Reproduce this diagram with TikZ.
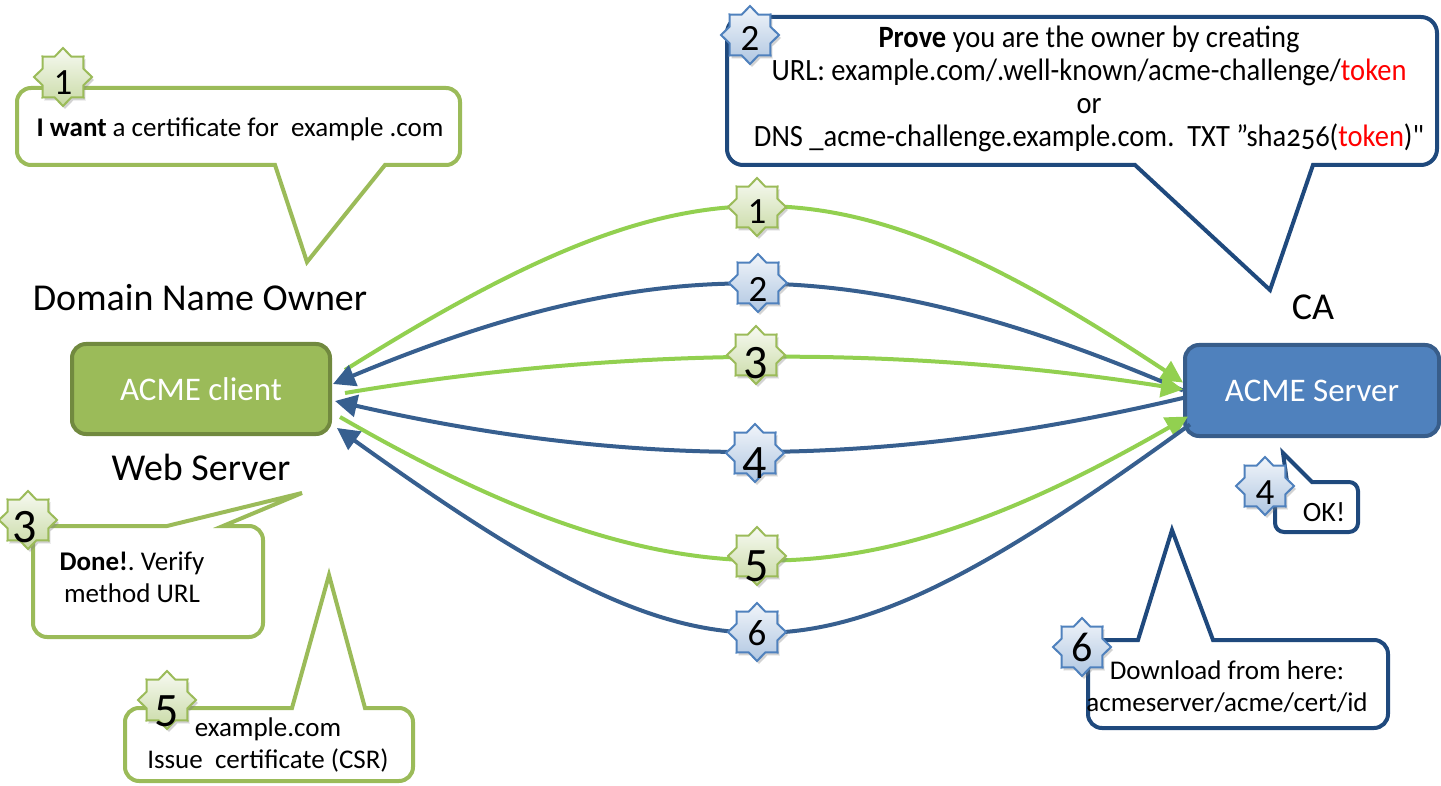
\documentclass[tikz,border=0pt]{standalone}
\usepackage{fontspec}
\setmainfont{Carlito}
\newfontfamily\narrowfont{Carlito}[FakeStretch=0.92, Numbers=OldStyle]
\usetikzlibrary{arrows.meta,shapes.geometric,shadows,calc}
\definecolor{leaf}{HTML}{9BBB59}
\definecolor{leafdark}{HTML}{71893F}
\definecolor{lime}{HTML}{92D050}
\definecolor{steel}{HTML}{4F81BD}
\definecolor{steeldark}{HTML}{385D8A}
\definecolor{navy}{HTML}{1F497D}
\definecolor{flowblue}{HTML}{375F8F}
\definecolor{tokenred}{HTML}{FF0000}
\frenchspacing
\tikzset{
  box/.style={rectangle, rounded corners=14pt, line width=4pt, text=white,
    font=\fontsize{33}{38}\selectfont},
  heading/.style={font=\fontsize{38}{44}\selectfont},
  note/.style={font=\fontsize{27}{32}\selectfont, align=center},
  callg/.style={draw=leaf, fill=white, line width=4pt},
  callb/.style={draw=navy, fill=white, line width=4pt},
  badge/.style={star, star points=8, star point ratio=1.32, minimum size=58pt,
    inner sep=0pt, line width=2pt,
    drop shadow={opacity=0.35, shadow xshift=2pt, shadow yshift=-3pt}},
  badgeg/.style={badge, draw=leaf, top color=leaf!8, bottom color=leaf!55},
  badgeb/.style={badge, draw=steel, top color=steel!8, bottom color=steel!45},
  num/.style={inner sep=0pt, font=\fontsize{37}{37}\selectfont},
  bignum/.style={inner sep=0pt, font=\fontsize{48}{48}\selectfont},
  flowg/.style={draw=lime, line width=4pt, -{Triangle[length=22pt,width=22pt]}},
  flowb/.style={draw=flowblue, line width=4pt, -{Triangle[length=22pt,width=22pt]}},
}
\begin{document}
\begin{tikzpicture}[x=1pt, y=-1pt]
\useasboundingbox (0,0) rectangle (1441,786);

% --- the two ACME endpoints
\node[box, draw=leafdark, fill=leaf, minimum width=258pt, minimum height=90pt]
  (client) at (201,389) {ACME client};
\node[box, draw=steeldark, fill=steel, minimum width=254pt, minimum height=91pt]
  (server) at (1312,390.5) {ACME Server};
\node[heading] (owner) at (200,298) {Domain Name Owner};
\node[heading] (web) at (201,467) {Web Server};
\node[heading] (ca) at (1313,307) {CA};

% --- speech bubbles
\draw[callg] (385,165) -- (307,262) -- (275,165) [rounded corners=14pt]
  -- (17,165) -- (17,88) -- (460,88) -- (460,165) [sharp corners] -- cycle;
\node[note] (say1) at (240,129) {\textbf{I want} a certificate for\ \ example\ .com};

\draw[callb] (1313,165) -- (1270,290) -- (1135,165) [rounded corners=16pt]
  -- (727,165) -- (727,17) -- (1437,17) -- (1437,165) [sharp corners] -- cycle;
\node[font=\narrowfont\fontsize{31}{33}\selectfont, align=center] (say2) at (1089,89)
  {\textbf{Prove} you are the owner by creating\\
   URL: example.com/.well-known/acme-challenge/\textcolor{tokenred}{token}\\
   or\\
   DNS \_acme-challenge.example.com.\ \ TXT ”sha256(\textcolor{tokenred}{token})"};

\draw[callg] (167,526) -- (302,493) -- (223,526) [rounded corners=14pt]
  -- (263,526) -- (263,637) -- (33,637) -- (33,526) [sharp corners] -- cycle;
\node[note] (say3) at (132,577) {\textbf{Done!}. Verify\\method URL};

\draw[callb] (1287,482) -- (1283,453) -- (1312,482) [rounded corners=9pt]
  -- (1358,482) -- (1358,532) -- (1275,532) -- (1275,482) [sharp corners] -- cycle;
\node[font=\fontsize{28}{32}\selectfont] (say4) at (1324,512) {OK!};

\draw[callg] (292,708) -- (329,575) -- (365,708) [rounded corners=14pt]
  -- (413,708) -- (413,781) -- (125,781) -- (125,708) [sharp corners] -- cycle;
\node[note] (say5) at (268,745) {example.com\\Issue\ \ certificate (CSR)};

\draw[callb] (1138,640) -- (1172,530) -- (1213,640) [rounded corners=14pt]
  -- (1388,640) -- (1388,728) -- (1088,728) -- (1088,640) [sharp corners] -- cycle;
\node[note] (say6) at (1227,687) {Download from here:\\acmeserver/acme/cert/id};

% --- message flows between client and server
\draw[flowg] ($(client.east)+(13,-19)$) .. controls +(350,-219) and +(-350,-231) ..
  ($(server.west)+(0,-8)$);
\draw[flowb] (server.west) .. controls +(-324,-139) and +(324,-135) ..
  ($(client.east)+(1,-5)$);
\draw[flowg] ($(client.east)+(13,4)$) .. controls +(280,-47) and +(-280,-44) ..
  ($(server.west)+(0,-1)$);
\draw[flowb] ($(server.west)+(2,7)$) .. controls +(-300,71) and +(300,68) ..
  ($(client.east)+(3,12)$);
\draw[flowg] ($(client.east)+(8,28)$) .. controls +(330,190) and +(-330,190) ..
  ($(server.west)+(5,26)$);
\draw[flowb] ($(server.west)+(7,34)$) .. controls +(-380,275) and +(380,272) ..
  ($(client.east)+(5,39)$);

% --- step badges, each digit set a little below the star's centre
\node[badgeg, label={[num, yshift=-5pt]center:1}] (s1) at (757,207) {};
\node[badgeb, label={[num, yshift=-6pt]center:2}] (s2) at (758,283) {};
\node[badgeg, label={[bignum, yshift=-8pt]center:3}] (s3) at (756,355) {};
\node[badgeb, label={[bignum, yshift=-10pt]center:4}] (s4) at (755,453) {};
\node[badgeg, label={[bignum, yshift=-10pt]center:5}] (s5) at (757,556) {};
\node[badgeb, label={[num, yshift=-1pt]center:6}] (s6) at (757,632) {};
\node[badgeg, label={[num, yshift=-6pt]center:1}] (c1) at (63,77) {};
\node[badgeb, label={[num, yshift=-3pt]center:2}] (c2) at (750,35) {};
\node[badgeg, label={[bignum, xshift=-3pt, yshift=-7pt]center:3}] (c3) at (28,520) {};
\node[badgeb, label={[num, yshift=-7pt]center:4}] (c4) at (1265,486) {};
\node[badgeg, label={[bignum, yshift=-11pt]center:5}] (c5) at (167,700) {};
\node[badgeb, label={[num, font=\fontsize{42}{42}\selectfont]center:6}] (c6) at (1082,647) {};
\end{tikzpicture}
\end{document}
